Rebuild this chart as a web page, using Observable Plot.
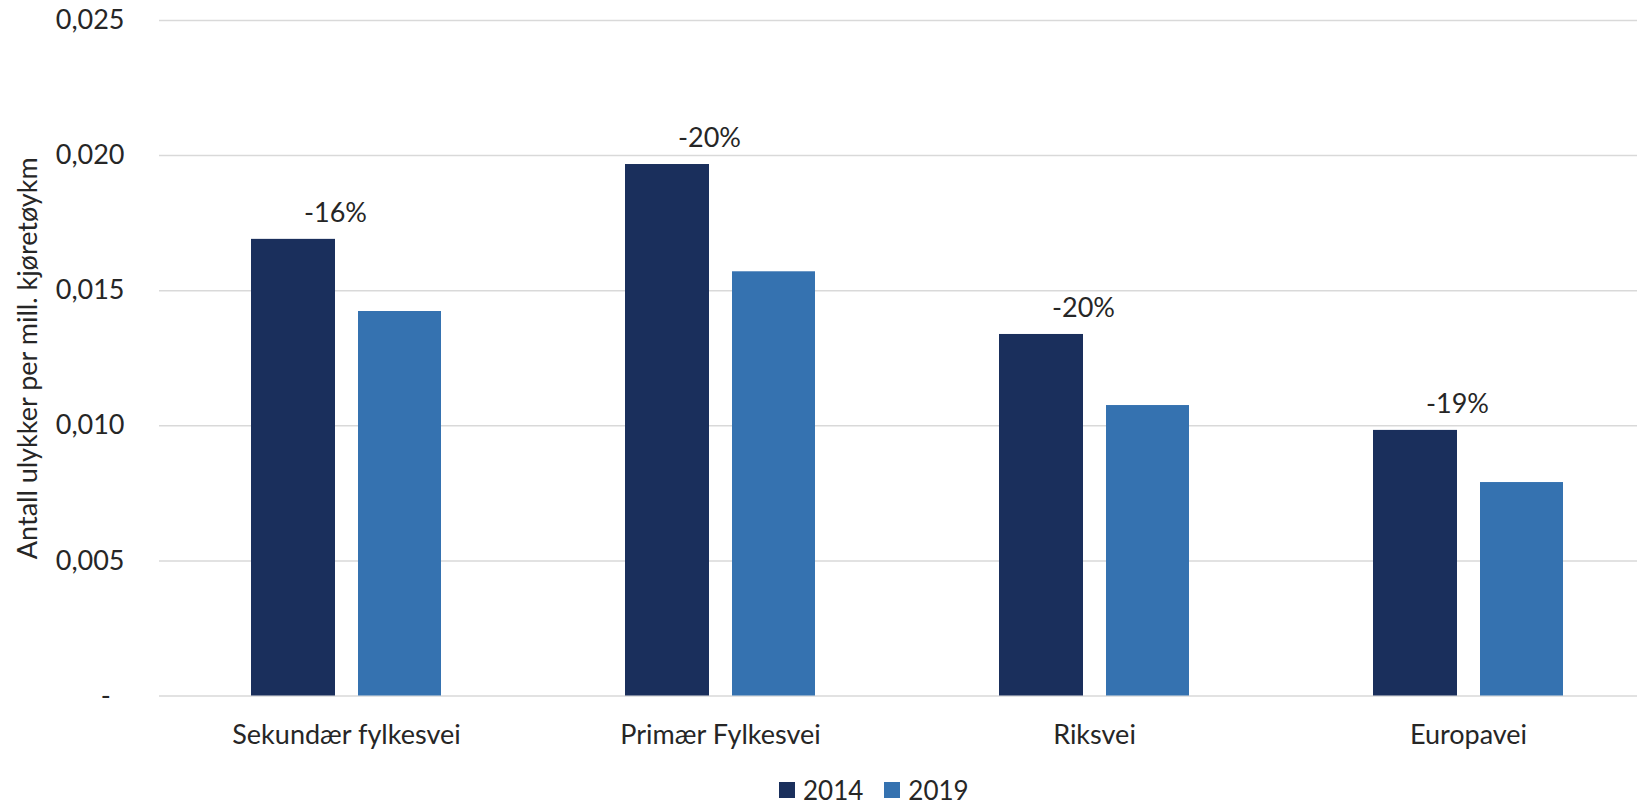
<!DOCTYPE html>
<html><head><meta charset="utf-8">
<script src="https://cdn.jsdelivr.net/npm/d3@7"></script>
<script src="https://cdn.jsdelivr.net/npm/@observablehq/plot@0.6"></script>
<style>
html,body{margin:0;padding:0;background:#fff;}
#chart{position:relative;width:1637px;height:805px;overflow:hidden;font-family:Lato,sans-serif;color:#262626;}
#legend{position:absolute;left:779px;top:779px;height:22px;}
#legend > div{font-family:Lato,sans-serif !important;font-size:26px !important;color:#262626;margin:0 !important;min-height:0 !important;line-height:22px;height:22px;}
#legend span{margin-right:21px !important;}
#legend svg{margin-right:8px !important;}
</style></head>
<body><div id="chart"><div id="plot"></div><div id="legend"></div></div>
<script>
const categories = ["Sekundær fylkesvei", "Primær Fylkesvei", "Riksvei", "Europavei"];
const values2014 = [0.0169, 0.01967, 0.01338, 0.00983];
const values2019 = [0.01423, 0.0157, 0.01075, 0.0079];
const changeLabels = ["-16%", "-20%", "-20%", "-19%"];
const years = ["2014", "2019"];
const yearColors = ["#1a2f5c", "#3572b0"];
const yTicks = [0, 0.005, 0.01, 0.015, 0.02, 0.025];
const yTickLabels = ["-\u00a0\u00a0", "0,005", "0,010", "0,015", "0,020", "0,025"];
const yTitle = "Antall ulykker per mill. kjøretøykm";

const rows = categories.map((c, i) => ({cat: c, v14: values2014[i], v19: values2019[i], pct: changeLabels[i]}));

const plot = Plot.plot({
  width: 1637,
  height: 778,
  marginLeft: 159,
  marginRight: 0,
  marginTop: 20,
  marginBottom: 82.5,
  style: {fontFamily: "Lato, sans-serif", fontSize: "27px", color: "#262626", background: "#fff"},
  x: {domain: categories, range: [159, 1655], padding: 0, label: null},
  y: {domain: [0, 0.025], label: null},
  color: {domain: years, range: yearColors},
  marks: [
    Plot.ruleY(yTicks, {stroke: "#d9d9d9", strokeWidth: 1.5}),
    Plot.barY(rows, {x: "cat", y: "v14", fill: () => years[0], insetLeft: 92, insetRight: 198}),
    Plot.barY(rows, {x: "cat", y: "v19", fill: () => years[1], insetLeft: 199, insetRight: 92}),
    Plot.text(rows, {x: "cat", y: "v14", text: "pct", dy: -26, dx: -11, fill: "#262626"}),
    Plot.axisY({ticks: yTicks, tickFormat: (d, i) => yTickLabels[i], tickSize: 0, tickPadding: 35, label: null}),
    Plot.axisX({tickSize: 0, tickPadding: 29, label: null}),
    Plot.text([yTitle], {text: d => d, frameAnchor: "left", textAnchor: "middle", dx: -131, rotate: -90, fill: "#262626"})
  ]
});
document.getElementById("plot").appendChild(plot);

const legend = Plot.legend({color: {domain: years, range: yearColors}, swatchSize: 16});
document.getElementById("legend").appendChild(legend);
</script>
</body></html>
